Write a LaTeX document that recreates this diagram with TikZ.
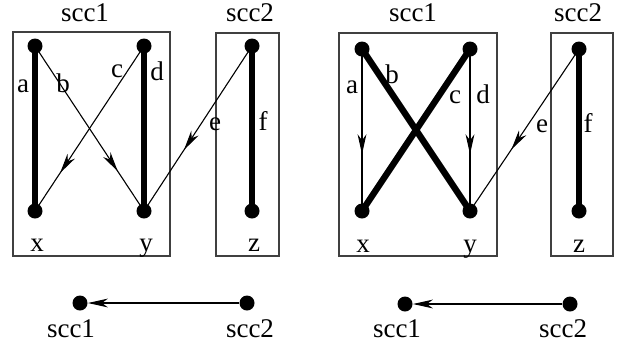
\documentclass[tikz,border=0pt]{standalone}
\usepackage{fontspec}
\setmainfont{Liberation Serif}
\usetikzlibrary{arrows.meta,decorations.markings}

\tikzset{
  dot/.style={circle,fill=black,inner sep=0pt,minimum size=7.5pt},
  heavy/.style={line width=3.2pt},
  light/.style={line width=0.55pt},
  midarrow/.style={light,postaction={decorate,decoration={markings,
      mark=at position #1 with {\arrow{Stealth[length=10pt,width=4.4pt,inset=3pt]}}}}},
  sccbox/.style={draw=black!75,line width=0.55pt},
  lbl/.style={font=\fontsize{13.5}{15}\selectfont,anchor=base,inner sep=0pt}
}

\begin{document}
\begin{tikzpicture}[x=0.5pt,y=-0.5pt]
  \useasboundingbox (0,0) rectangle (625,345);

  % left panel
  \draw[sccbox] (13,32) rectangle (170,256);
  \draw[sccbox] (216,33) rectangle (279,256);
  \node[lbl] (Ltop1) at (85,21) {scc1};
  \node[lbl] (Ltop2) at (250,21) {scc2};
  \node[dot] (La) at (35,46) {};
  \node[dot] (Lb) at (144,46) {};
  \node[dot] (Lx) at (35,211) {};
  \node[dot] (Ly) at (144,211) {};
  \node[dot] (Lc) at (252,46) {};
  \node[dot] (Lz) at (252,211) {};
  \draw[heavy] (La.center) -- (Lx.center);
  \draw[heavy] (Lb.center) -- (Ly.center);
  \draw[heavy] (Lc.center) -- (Lz.center);
  \draw[midarrow=0.76] (La.center) -- (Ly.center);
  \draw[midarrow=0.77] (Lb.center) -- (Lx.center);
  \draw[midarrow=0.63] (Lc.center) -- (Ly.center);
  \node[lbl] at (23,92) {a};
  \node[lbl] at (63,92) {b};
  \node[lbl] at (117,77) {c};
  \node[lbl] at (157,80) {d};
  \node[lbl] at (215,130) {e};
  \node[lbl] at (263,130) {f};
  \node[lbl] at (37,251) {x};
  \node[lbl] at (146,251) {y};
  \node[lbl] at (254,251) {z};

  % right panel
  \draw[sccbox] (339,33) rectangle (497,256);
  \draw[sccbox] (551,33) rectangle (613,256);
  \node[lbl] (Rtop1) at (413,21) {scc1};
  \node[lbl] (Rtop2) at (578,21) {scc2};
  \node[dot] (Ra) at (362,49) {};
  \node[dot] (Rb) at (470,49) {};
  \node[dot] (Rx) at (362,211) {};
  \node[dot] (Ry) at (470,211) {};
  \node[dot] (Rc) at (579,49) {};
  \node[dot] (Rz) at (579,211) {};
  \draw[heavy] (Ra.center) -- (Ry.center);
  \draw[heavy] (Rb.center) -- (Rx.center);
  \draw[heavy] (Rc.center) -- (Rz.center);
  \draw[midarrow=0.65] (Ra.center) -- (Rx.center);
  \draw[midarrow=0.65] (Rb.center) -- (Ry.center);
  \draw[midarrow=0.62] (Rc.center) -- (Ry.center);
  \node[lbl] at (352,93) {a};
  \node[lbl] at (392,83) {b};
  \node[lbl] at (455,103) {c};
  \node[lbl] at (483,103) {d};
  \node[lbl] at (542,132) {e};
  \node[lbl] at (588,132) {f};
  \node[lbl] at (363,252) {x};
  \node[lbl] at (470,252) {y};
  \node[lbl] at (579,252) {z};

  % condensed graphs
  \node[dot] (Ls1) at (80,303) {};
  \node[dot] (Ls2) at (247,303) {};
  \node[dot] (Rs1) at (405,304) {};
  \node[dot] (Rs2) at (570,304) {};
  \draw[light,-{Stealth[length=10pt,width=4.4pt,inset=3pt]}] (Ls2) -- (Ls1);
  \draw[light,-{Stealth[length=10pt,width=4.4pt,inset=3pt]}] (Rs2) -- (Rs1);
  \node[lbl] at (71,337) {scc1};
  \node[lbl] at (250,337) {scc2};
  \node[lbl] at (397,337) {scc1};
  \node[lbl] at (563,337) {scc2};
\end{tikzpicture}
\end{document}
